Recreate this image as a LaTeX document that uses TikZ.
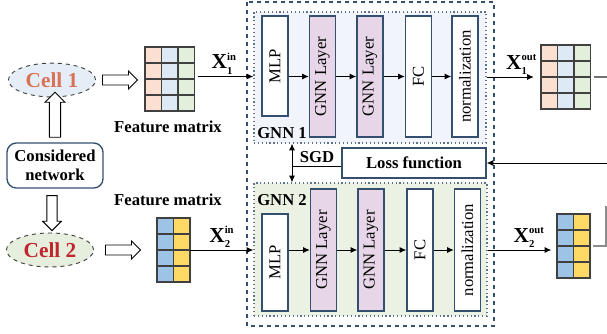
\documentclass[tikz,border=0pt]{standalone}
\usepackage{fontspec}
\setmainfont{Liberation Serif}
\usetikzlibrary{arrows.meta,shapes.geometric,shapes.arrows,positioning}

\definecolor{boxblue}{HTML}{34506E}
\definecolor{peach}{HTML}{FBE0D2}
\definecolor{lblue}{HTML}{DDEAF6}
\definecolor{lgreen}{HTML}{E2EFDA}
\definecolor{mblue}{HTML}{9DC3E6}
\definecolor{gold}{HTML}{FFD966}
\definecolor{gnnpink}{HTML}{E7D6E8}
\definecolor{panelblue}{HTML}{F1F5FB}
\definecolor{panelgreen}{HTML}{EBF2E4}
\definecolor{cellonefill}{HTML}{E5EEF6}
\definecolor{celltwofill}{HTML}{E6EFDD}
\definecolor{cellonetext}{HTML}{D8735A}
\definecolor{celltwotext}{HTML}{C0262D}

\tikzset{
  txt/.style={font=\fontsize{12.5}{14}\selectfont},
  btxt/.style={font=\bfseries\fontsize{12.5}{14}\selectfont},
  blk/.style={txt,draw=boxblue,line width=1pt,fill=white,minimum width=19.5pt,inner sep=0pt},
  gnnblk/.style={blk,fill=gnnpink},
  cell/.style={ellipse,draw=black!75,dashed,line width=0.7pt,minimum width=57pt,minimum height=23pt,
    font=\bfseries\fontsize{16}{18}\selectfont},
  hollow/.style={single arrow,draw=black,line width=0.7pt,fill=white,inner sep=3.4pt,
    single arrow head extend=3pt},
  lnk/.style={-{Latex[length=5pt,width=4.5pt]},line width=0.75pt},
  xlab/.style={font=\fontsize{16}{18}\selectfont}
}
% bold X with small bold indices
\newcommand{\xvar}[2]{$\textbf{X}^{\textbf{\footnotesize #1}}_{\textbf{\footnotesize #2}}$}

\begin{document}
\begin{tikzpicture}[x=0.75pt,y=-0.75pt]
\useasboundingbox (0,0) rectangle (607,333);

% outer frame round both GNNs
\draw[boxblue,dashed,line width=0.9pt] (247,2) rectangle (494,326);
% the two GNN panels
\node[draw=boxblue!80,dotted,line width=0.9pt,fill=panelblue,minimum width=174pt,minimum height=98.25pt,inner sep=0pt] (gnn1) at (370,77.5) {};
\node[draw=boxblue!80,dotted,line width=0.9pt,fill=panelgreen,minimum width=174.75pt,minimum height=99.75pt,inner sep=0pt] (gnn2) at (370.5,249.5) {};
\node[btxt,anchor=west,inner sep=0pt] (gnn1lab) at (257,133) {GNN 1};
\node[btxt,anchor=west,inner sep=0pt] (gnn2lab) at (257,200) {GNN 2};

% layers of GNN 1 (p1..p5)
\node[blk,minimum height=75pt] (p1) at (275,66) {\rotatebox{90}{MLP}};
\foreach \i/\x/\t/\s in {2/322.5/GNN Layer/gnnblk,3/370/GNN Layer/gnnblk,4/418.5/FC/blk,5/465/normalization/blk}
{
  \node[\s,minimum height=90.75pt] (p\i) at (\x,76.5) {\rotatebox{90}{\t}};
}
% layers of GNN 2 (q1..q5)
\node[blk,minimum height=72.75pt] (q1) at (275,262.5) {\rotatebox{90}{MLP}};
\foreach \i/\x/\t/\s in {2/323.5/GNN Layer/gnnblk,3/371/GNN Layer/gnnblk,4/420/FC/blk,5/467.5/normalization/blk}
{
  \node[\s,minimum height=91.5pt] (q\i) at (\x,250) {\rotatebox{90}{\t}};
}
% arrows from layer to layer
\foreach \i [evaluate=\i as \j using int(\i+1)] in {1,...,4}
{
  \draw[lnk] (p\i.east |- p\j.west) -- (p\j.west);
  \draw[lnk] (q\i.east |- q\j.west) -- (q\j.west);
}

% loss function and SGD
\node[btxt,draw=boxblue,line width=1pt,fill=white,minimum width=108pt,minimum height=22.5pt,inner sep=0pt] (loss) at (414,163) {Loss function};
\coordinate (sgd) at (292,166);
\draw[{Latex[length=5pt,width=4.5pt]}-{Latex[length=5pt,width=4.5pt]},line width=0.75pt] (gnn1.south -| sgd) -- (gnn2.north -| sgd);
\draw[line width=0.75pt] (sgd) -- (sgd -| loss.west);
\node[btxt,inner sep=0pt] (sgdlab) at (317,157) {SGD};
\coordinate (lossin) at (607,163);
\draw[lnk] (lossin) -- (loss.east);

% left side: network and the two cells
\node[btxt,draw=boxblue,line width=1pt,rounded corners=7pt,align=center,minimum width=72pt,minimum height=33.75pt,inner sep=1pt] (net) at (55,165.5) {Considered\\network};
\node[cell,fill=cellonefill,text=cellonetext] (cell1) at (52,80) {Cell 1};
\node[cell,fill=celltwofill,text=celltwotext,minimum height=25.5pt] (cell2) at (50,250) {Cell 2};
\node[hollow,minimum height=33.75pt,minimum width=15pt,rotate=90] (up1) at (55,117.5) {};
\node[hollow,minimum height=26.25pt,minimum width=14pt,rotate=-90] (down2) at (52,210.5) {};
\node[hollow,minimum height=26.25pt,minimum width=12.75pt] (ha1) at (117.5,80) {};
\node[hollow,minimum height=26.25pt,minimum width=12.75pt] (ha2) at (120.5,250) {};

% feature matrices, cells of 16.5 x 16
\foreach \c/\col in {0/peach,1/lblue,2/lgreen}
  \foreach \r in {0,...,3}
  {
    \draw[fill=\col,draw=black!75,line width=0.8pt] (145+16.5*\c,47+16*\r) rectangle ++(16.5,16);
    \draw[fill=\col,draw=black!75,line width=0.8pt] (541+16.5*\c,45+16*\r) rectangle ++(16.5,16);
  }
\foreach \c/\col in {0/mblue,1/gold}
  \foreach \r in {0,...,3}
  {
    \draw[fill=\col,draw=black!75,line width=0.8pt] (157+16.5*\c,218+16*\r) rectangle ++(16.5,16);
    \draw[fill=\col,draw=black!75,line width=0.8pt] (557+16.5*\c,214+16*\r) rectangle ++(16.5,16);
  }
% names over the matrices
\node[minimum width=37.5pt,minimum height=48pt,inner sep=0pt] (fm1) at (169.75,79) {};
\node[minimum width=37.5pt,minimum height=48pt,inner sep=0pt] (fo1) at (565.75,77) {};
\node[minimum width=24.75pt,minimum height=48pt,inner sep=0pt] (fm2) at (173.5,250) {};
\node[minimum width=24.75pt,minimum height=48pt,inner sep=0pt] (fo2) at (573.5,246) {};
\node[btxt] (fmlab1) at (168,127) {Feature matrix};
\node[btxt] (fmlab2) at (168,200) {Feature matrix};

% inputs and outputs
\draw[lnk,shorten <=2pt] (fm1.east |- p2.west) -- node[xlab,above=-2pt] {\xvar{in}{1}} (gnn1.west |- p2.west);
\draw[lnk] (fm2.east) -- node[xlab,above=-2pt] {\xvar{in}{2}} (fm2.east -| gnn2.west);
\draw[lnk,shorten >=5pt] (gnn1.east |- fo1.west) -- node[xlab,above=-2pt,pos=0.65] {\xvar{out}{1}} (fo1.west);
\draw[lnk,shorten >=4pt] (gnn2.east |- q5.east) -- node[xlab,above=-2pt,pos=0.6] {\xvar{out}{2}} (fo2.west |- q5.east);

% lines running off to the right
\coordinate (r1) at (607,77);
\coordinate (r2) at (606,246);
\draw[black!55,line width=0.8pt,shorten <=2pt] (fo1.east) -- (r1);
\draw[black!45,line width=0.8pt,shorten <=2pt] (fo2.east) -- (r2) -- ++(0,-40);
\end{tikzpicture}
\end{document}
